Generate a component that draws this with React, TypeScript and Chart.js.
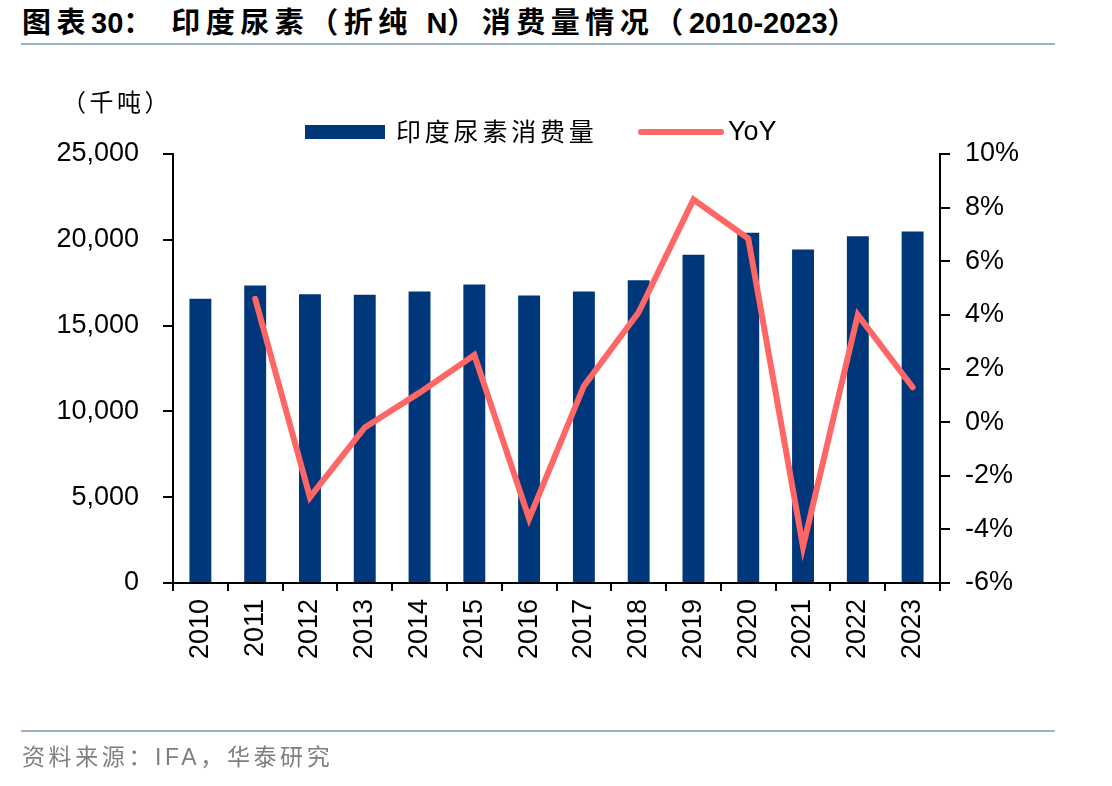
import React, { useEffect, useRef } from "react";
import { Chart, registerables } from "chart.js";

Chart.register(...registerables);

// 印度尿素（折纯 N）消费量，千吨
const years = ["2010", "2011", "2012", "2013", "2014", "2015", "2016", "2017", "2018", "2019", "2020", "2021", "2022", "2023"];
const consumption = [16570, 17330, 16820, 16800, 16980, 17390, 16760, 16980, 17640, 19130, 20410, 19440, 20200, 20490];
// 同比增速，%
const yoy = [null, 4.6, -2.8, -0.2, 1.1, 2.5, -3.6, 1.35, 4.1, 8.3, 6.85, -4.65, 4.0, 1.3];

const leftMin = 0;
const leftMax = 25000;
const leftStep = 5000;
const rightMin = -6;
const rightMax = 10;
const rightStep = 2;

const BAR_COLOR = "#00377A";
const LINE_COLOR = "#FF6666";
const LATIN = "'Liberation Sans', Arial, sans-serif";
const CJK = "'Liberation Sans', 'Noto Sans CJK SC', sans-serif";

// 标题分段：汉字段加字距，数字与字母段保持紧凑
const titleParts: [string, boolean][] = [
  ["图表", true],
  ["30", false],
  ["： 印度尿素（折纯 ", true],
  ["N", false],
  ["）消费量情况（", true],
  ["2010-2023", false],
  ["）", true],
];

export default function App() {
  const canvasRef = useRef<HTMLCanvasElement | null>(null);

  useEffect(() => {
    const canvas = canvasRef.current;
    if (!canvas) return;
    const tickFont = { family: LATIN, size: 27 };
    const chart = new Chart(canvas, {
      type: "bar",
      data: {
        labels: years,
        datasets: [
          {
            type: "line",
            label: "YoY",
            data: yoy,
            yAxisID: "y1",
            borderColor: LINE_COLOR,
            backgroundColor: LINE_COLOR,
            borderWidth: 6,
            pointRadius: 0,
            tension: 0,
            borderCapStyle: "round",
            spanGaps: false,
            order: 0,
          },
          {
            type: "bar",
            label: "印度尿素消费量",
            data: consumption,
            yAxisID: "y",
            backgroundColor: BAR_COLOR,
            borderWidth: 0,
            categoryPercentage: 1,
            barPercentage: 0.4,
            order: 1,
          },
        ],
      },
      options: {
        responsive: false,
        animation: false,
        maintainAspectRatio: false,
        layout: { padding: { top: 154, left: 0, right: 0, bottom: 0 } },
        plugins: {
          legend: { display: false },
          title: { display: false },
          tooltip: { enabled: false },
        },
        scales: {
          x: {
            offset: true,
            grid: {
              offset: true,
              drawOnChartArea: false,
              drawTicks: true,
              tickLength: 8,
              color: "#000",
              lineWidth: 2,
            },
            border: { display: true, color: "#000", width: 2 },
            ticks: {
              color: "#000",
              font: tickFont,
              maxRotation: 90,
              minRotation: 90,
              padding: 8,
              autoSkip: false,
            },
            afterFit: (scale: any) => {
              scale.height = 786 - 583;
            },
          },
          y: {
            position: "left",
            min: leftMin,
            max: leftMax,
            grid: {
              drawOnChartArea: false,
              drawTicks: true,
              tickLength: 10,
              color: "#000",
              lineWidth: 2,
            },
            border: { display: true, color: "#000", width: 2 },
            ticks: {
              stepSize: leftStep,
              color: "#000",
              font: tickFont,
              padding: 24,
              callback: (v: any) => Number(v).toLocaleString("en-US"),
            },
            afterFit: (scale: any) => {
              scale.width = 173;
            },
          },
          y1: {
            position: "right",
            min: rightMin,
            max: rightMax,
            grid: {
              drawOnChartArea: false,
              drawTicks: true,
              tickLength: 10,
              color: "#000",
              lineWidth: 2,
            },
            border: { display: true, color: "#000", width: 2 },
            ticks: {
              stepSize: rightStep,
              color: "#000",
              font: tickFont,
              padding: 15,
              callback: (v: any) => `${v}%`,
            },
            afterFit: (scale: any) => {
              scale.width = 1112 - 940;
            },
          },
        },
      },
    });
    return () => chart.destroy();
  }, []);

  return (
    <div
      style={{
        position: "absolute",
        left: 0,
        top: 0,
        width: 1112,
        height: 786,
        background: "#fff",
        overflow: "hidden",
      }}
    >
      <div
        style={{
          position: "absolute",
          left: 22,
          top: 4,
          fontFamily: CJK,
          fontWeight: 700,
          fontSize: 29,
          lineHeight: "38px",
          color: "#000",
          whiteSpace: "nowrap",
        }}
      >
        {titleParts.map(([text, spaced], i) => (
          <span key={i} style={{ letterSpacing: spaced ? 5.5 : 0 }}>
            {text}
          </span>
        ))}
      </div>
      <div style={{ position: "absolute", left: 21, top: 43, width: 1034, height: 2, background: "#9DB1CA" }} />

      <canvas ref={canvasRef} width={1112} height={786} style={{ position: "absolute", left: 0, top: 0 }} />

      <div
        style={{
          position: "absolute",
          left: 62,
          top: 87,
          fontFamily: CJK,
          fontSize: 24,
          letterSpacing: 3.5,
          lineHeight: "32px",
          color: "#000",
          whiteSpace: "nowrap",
        }}
      >
        （千吨）
      </div>

      <div style={{ position: "absolute", left: 305, top: 125, width: 80, height: 14, background: BAR_COLOR }} />
      <div
        style={{
          position: "absolute",
          left: 396,
          top: 115,
          fontFamily: CJK,
          fontSize: 25,
          letterSpacing: 3.8,
          lineHeight: "34px",
          color: "#000",
          whiteSpace: "nowrap",
        }}
      >
        印度尿素消费量
      </div>
      <div
        style={{
          position: "absolute",
          left: 638,
          top: 129,
          width: 86,
          height: 6,
          borderRadius: 3,
          background: LINE_COLOR,
        }}
      />
      <div
        style={{
          position: "absolute",
          left: 728,
          top: 114,
          fontFamily: LATIN,
          fontSize: 27,
          lineHeight: "34px",
          color: "#000",
          whiteSpace: "nowrap",
        }}
      >
        YoY
      </div>

      <div style={{ position: "absolute", left: 21, top: 730, width: 1034, height: 2, background: "#9DB1CA" }} />
      <div
        style={{
          position: "absolute",
          left: 22,
          top: 741,
          fontFamily: CJK,
          fontSize: 23,
          letterSpacing: 3.6,
          lineHeight: "32px",
          color: "#7F7F7F",
          whiteSpace: "nowrap",
        }}
      >
        资料来源：IFA，华泰研究
      </div>
    </div>
  );
}
